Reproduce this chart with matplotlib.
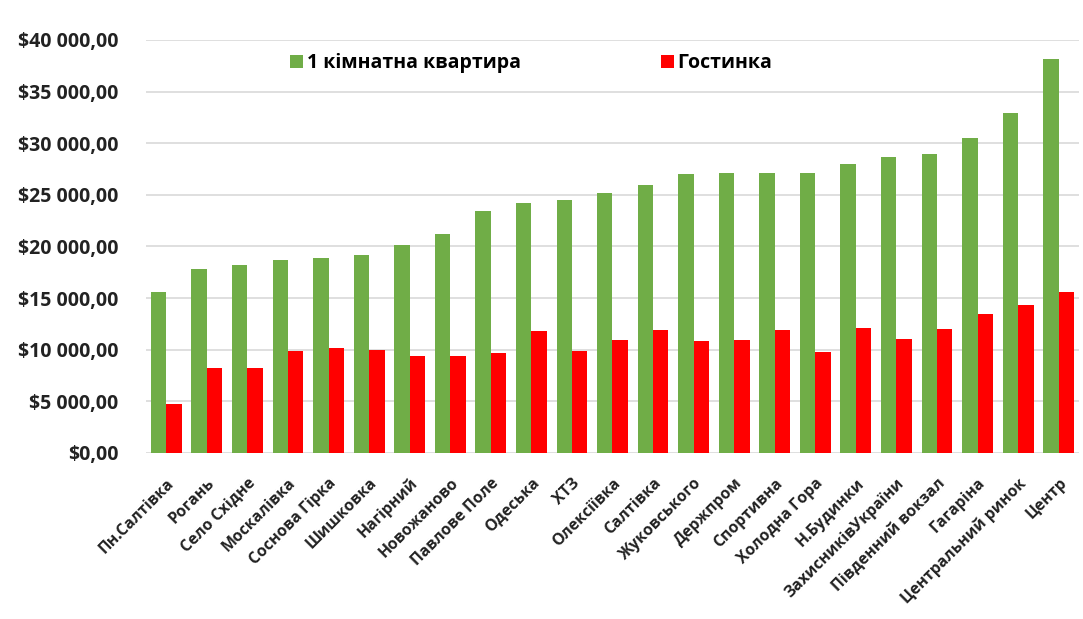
import matplotlib
matplotlib.use("Agg")
import matplotlib.pyplot as plt
import numpy as np
from matplotlib.ticker import FuncFormatter

plt.rcParams['font.family'] = ['Open Sans', 'DejaVu Sans']
plt.rcParams['font.weight'] = 'bold'

districts = ['Пн.Салтівка', 'Рогань', 'Село Східне', 'Москалівка', 'Соснова Гірка',
             'Шишковка', 'Нагірний', 'Новожаново', 'Павлове Поле', 'Одеська', 'ХТЗ',
             'Олексіївка', 'Салтівка', 'Жуковського', 'Держпром', 'Спортивна',
             'Холодна Гора', 'Н.Будинки', 'ЗахисниківУкраїни', 'Південний вокзал',
             'Гагаріна', 'Центральний ринок', 'Центр']
one_room = [15600, 17850, 18250, 18650, 18900, 19200, 20150, 21200, 23400, 24200, 24500,
            25150, 26000, 27000, 27150, 27150, 27150, 27950, 28650, 29000,
            30500, 32950, 38200]
gostynka = [4750, 8200, 8200, 9900, 10200, 10000, 9350, 9350, 9700, 11800, 9850,
            10950, 11950, 10800, 10950, 11950, 9800, 12150, 11000, 12000,
            13500, 14300, 15600]
series_names = ['1 кімнатна квартира', 'Гостинка']

green = '#70ad47'
red = '#ff0000'

fig = plt.figure(figsize=(10.83, 6.19), dpi=100)
ax = fig.add_axes([0.1348, 0.2682, 0.8615, 0.6672])

x = np.arange(len(districts))
w = 0.38
ax.bar(x - w / 2, one_room, w, color=green, label=series_names[0], zorder=3)
ax.bar(x + w / 2, gostynka, w, color=red, label=series_names[1], zorder=3)

ax.set_xlim(-0.5, len(districts) - 0.5)
ax.set_ylim(0, 40000)
ax.set_yticks(np.arange(0, 40001, 5000))


def money(v, pos):
    s = f"{int(v):,}".replace(",", " ")
    return f"${s},00"


ax.yaxis.set_major_formatter(FuncFormatter(money))
ax.grid(axis='y', color='#d9d9d9', linewidth=1.2, zorder=0)
for sp in ax.spines.values():
    sp.set_visible(False)
ax.tick_params(axis='both', length=0)
ax.tick_params(axis='y', labelsize=14, pad=20, colors='#222222')

ax.set_xticks(x)
ax.set_xticklabels(districts, rotation=45, ha='right', rotation_mode='anchor',
                   fontsize=11.3, color='#222222')
ax.tick_params(axis='x', pad=16)

ax.legend(loc='center', bbox_to_anchor=(0.413, 0.944), ncol=2, frameon=False,
          fontsize=14, columnspacing=7.2, handlelength=0.65, handleheight=0.65,
          handletextpad=0.2)

fig.savefig('out.png', dpi=100)
